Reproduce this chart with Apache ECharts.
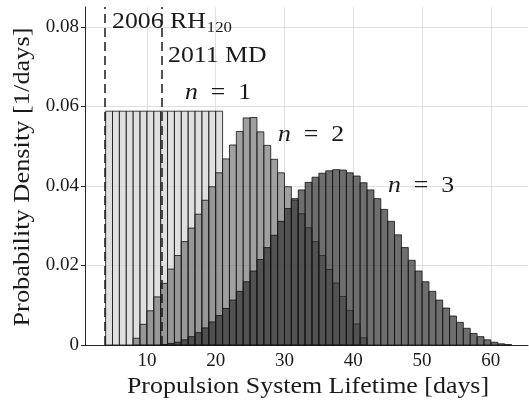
<!DOCTYPE html>
<html><head><meta charset="utf-8">
<script src="https://cdn.jsdelivr.net/npm/echarts@6/dist/echarts.min.js"></script>
<style>html,body{margin:0;padding:0;background:#fff}#c{width:529px;height:407px}</style>
</head><body><div id="c"></div>
<script>
// ---- data ----
const binWidth = 1;
const n1FirstBin = 4;
const n1Density = [0.0588,0.0588,0.0588,0.0588,0.0588,0.0588,0.0588,0.0588,0.0588,0.0588,0.0588,0.0588,0.0588,0.0588,0.0588,0.0588,0.0588];
const n2FirstBin = 8;
const n2Density = [0.0017,0.0052,0.0086,0.0121,0.0155,0.0191,0.0225,0.0260,0.0294,0.0329,0.0364,0.0398,0.0433,0.0468,0.0503,0.0537,0.0571,
                   0.0572,0.0536,0.0502,0.0467,0.0433,0.0398,0.0364,0.0330,0.0295,0.0260,0.0225,0.0190,0.0156,0.0122,0.0087,0.0053,0.0018];
const n3FirstBin = 12;
const n3Density = [0.0001,0.0004,0.0007,0.0013,0.0021,0.0031,0.0043,0.0058,0.0074,0.0092,0.0113,0.0135,0.0159,0.0186,0.0215,0.0245,0.0276,
                   0.0311,0.0343,0.0368,0.0390,0.0409,0.0422,0.0432,0.0438,0.0441,0.0440,0.0433,0.0425,0.0408,0.0390,0.0368,0.0341,0.0311,
                   0.0277,0.0245,0.0213,0.0186,0.0159,0.0135,0.0113,0.0093,0.0073,0.0057,0.0042,0.0029,0.0021,0.0013,0.0007,0.0003,0.0001];
const asteroidLifetimes = [3.85, 12.1];
const asteroidNames = ['2006 RH', '2011 MD'];
const asteroidSubscripts = ['120', ''];
const seriesLabels = ['1', '2', '3'];
const xTickValues = [10, 20, 30, 40, 50, 60];
const yTickValues = [0, 0.02, 0.04, 0.06, 0.08];
const xLabel = 'Propulsion System Lifetime [days]';
const yLabel = 'Probability Density [1/days]';

// ---- chart ----
const serif = '"Liberation Serif", "Times New Roman", serif';
const ink = '#1a1a1a';
function toBins(first, dens) {
  return dens.map((d, i) => [first + i * binWidth, first + (i + 1) * binWidth, d]);
}
function histSeries(name, first, dens, fill) {
  return {
    type: 'custom', name, data: toBins(first, dens), encode: { x: [0, 1], y: 2 },
    silent: true, animation: false,
    renderItem(params, api) {
      const p0 = api.coord([api.value(0), 0]);
      const p1 = api.coord([api.value(1), api.value(2)]);
      return { type: 'rect',
        shape: { x: p0[0], y: p1[1], width: p1[0] - p0[0], height: p0[1] - p1[1] },
        style: { fill, stroke: '#111', lineWidth: 0.8 } };
    }
  };
}
const ctx = document.createElement('canvas').getContext('2d');
function textW(t, size) { ctx.font = size + 'px "Liberation Serif"'; return ctx.measureText(t).width; }

const annoSize = 23, annoScale = 1.12;
const graphics = [];
function addText(t, x, y, size, sx, extra) {
  graphics.push(Object.assign({ type: 'text', x, y, scaleX: sx, z: 100, silent: true,
    style: { text: t, font: size + 'px ' + serif, fill: ink, textAlign: 'left', textVerticalAlign: 'middle' } }, extra || {}));
}
// asteroid labels
const annoPos = [[112, 22], [168, 56]];
asteroidNames.forEach((nm, i) => {
  addText(nm, annoPos[i][0], annoPos[i][1], annoSize, annoScale);
  if (asteroidSubscripts[i]) {
    addText(asteroidSubscripts[i], annoPos[i][0] + textW(nm, annoSize) * annoScale + 1, annoPos[i][1] + 6, 15, annoScale);
  }
});
// n = k labels
const nPos = [[185, 92.5], [278, 134.5], [388, 185.5]];
seriesLabels.forEach((k, i) => {
  graphics.push({ type: 'text', x: nPos[i][0], y: nPos[i][1], scaleX: annoScale, z: 100, silent: true,
    style: { text: '{i|n}{r|\u2002=\u2002' + k + '}', fill: ink, textAlign: 'left', textVerticalAlign: 'middle',
      rich: { i: { fontFamily: serif, fontSize: annoSize, fontStyle: 'italic', fill: ink },
              r: { fontFamily: serif, fontSize: annoSize, fill: ink } } } });
});
// axis titles
graphics.push({ type: 'text', x: 308, y: 387, scaleX: 1.08, z: 100, silent: true,
  style: { text: xLabel, font: '24px ' + serif, fill: ink, textAlign: 'center', textVerticalAlign: 'middle' } });
graphics.push({ type: 'text', x: 23, y: 177, rotation: Math.PI / 2, scaleX: 1.1, z: 100, silent: true,
  style: { text: yLabel, font: '24px ' + serif, fill: ink, textAlign: 'center', textVerticalAlign: 'middle' } });

const chart = echarts.init(document.getElementById('c'), null, { renderer: 'canvas' });
chart.setOption({
  animation: false,
  backgroundColor: '#fff',
  grid: { left: 85, right: 1, top: 7, bottom: 62, containLabel: false },
  xAxis: {
    type: 'value', min: 1, max: 65.4,
    axisLine: { show: true, onZero: false, lineStyle: { color: '#262626', width: 1 } },
    axisTick: { show: false, customValues: xTickValues },
    axisLabel: { customValues: xTickValues, margin: 7, fontFamily: serif, fontSize: 19, color: ink },
    splitLine: { show: true, lineStyle: { color: '#e0e0e0', width: 1 } }
  },
  yAxis: {
    type: 'value', min: 0, max: 0.085,
    axisLine: { show: true, lineStyle: { color: '#262626', width: 1 } },
    axisTick: { show: true, length: 4, customValues: yTickValues, lineStyle: { color: '#262626' } },
    axisLabel: { customValues: yTickValues, margin: 6, fontFamily: serif, fontSize: 19, color: ink,
      formatter: v => v === 0 ? '0' : v.toFixed(2) },
    splitLine: { show: true, lineStyle: { color: '#e0e0e0', width: 1 } }
  },
  series: [
    histSeries('n=1', n1FirstBin, n1Density, 'rgba(211,211,211,0.7)'),
    histSeries('n=2', n2FirstBin, n2Density, 'rgba(119,119,119,0.7)'),
    histSeries('n=3', n3FirstBin, n3Density, 'rgba(48,48,48,0.7)'),
    { type: 'line', data: [], silent: true,
      markLine: { silent: true, symbol: 'none', animation: false, label: { show: false },
        lineStyle: { type: [9, 5], color: '#1a1a1a', width: 1.5 },
        data: asteroidLifetimes.map(v => ({ xAxis: v })) } }
  ],
  graphic: graphics
});
</script></body></html>
